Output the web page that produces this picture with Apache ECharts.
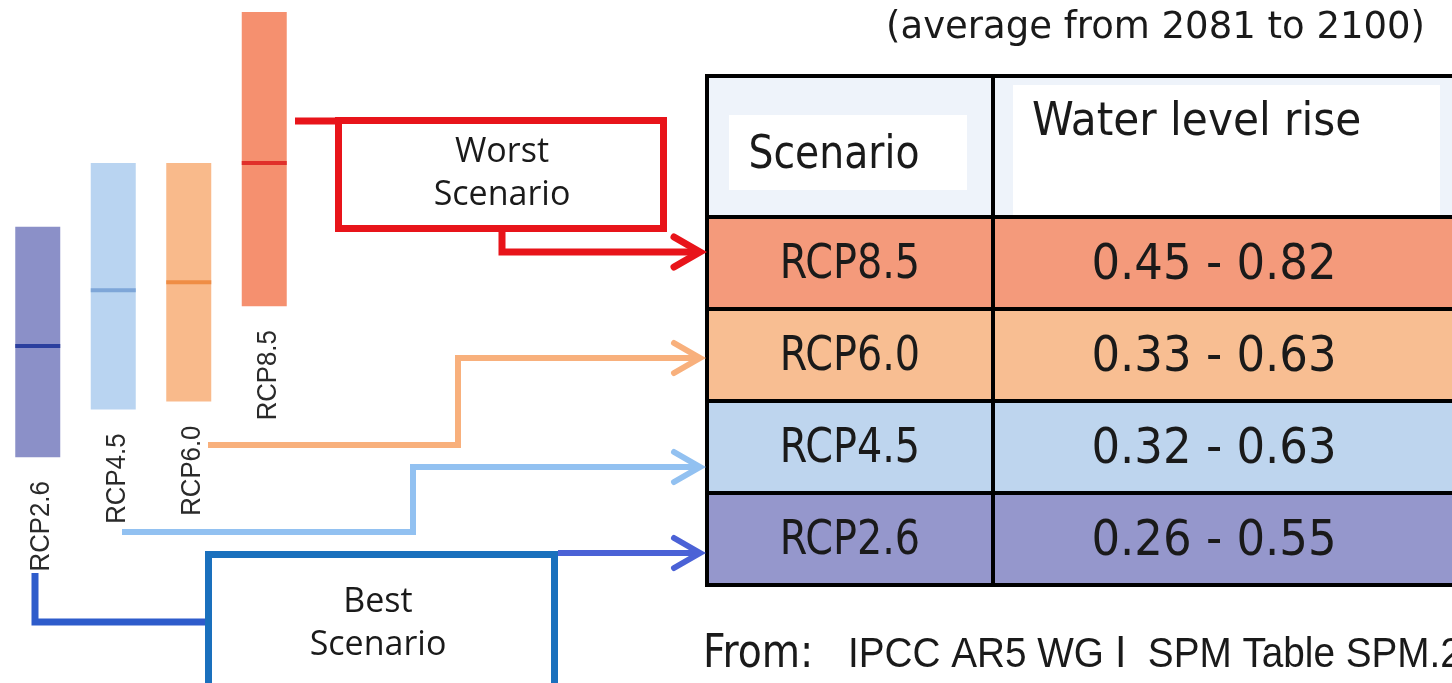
<!DOCTYPE html>
<html>
<head>
<meta charset="utf-8">
<script src="https://cdn.jsdelivr.net/npm/echarts/dist/echarts.min.js"></script>
<style>
  html, body { margin: 0; padding: 0; background: #fff; }
  #main { width: 1452px; height: 683px; }
</style>
</head>
<body>
<div id="main"></div>
<script>
// sea level rise ranges (m), average 2081-2100
var scenarios = ['RCP2.6', 'RCP4.5', 'RCP6.0', 'RCP8.5'];
var lowValues = [0.26, 0.32, 0.33, 0.45];
var highValues = [0.55, 0.63, 0.63, 0.82];
var medianValues = [0.40, 0.47, 0.48, 0.63];
var barColors = ['#8b90c8', '#b9d4f1', '#f9ba8b', '#f5906f'];
var medianColors = ['#2b3f9e', '#7ea6d8', '#ef8d45', '#e0302a'];

// table rows, top to bottom
var tableOrder = ['RCP8.5', 'RCP6.0', 'RCP4.5', 'RCP2.6'];
var rowColors = ['#f49a7b', '#f8be92', '#bed5ee', '#9597cc'];

var condensed = '"DejaVu Sans Condensed", "DejaVu Sans", sans-serif';

var barData = scenarios.map(function (s, i) {
    return [i, lowValues[i], highValues[i], medianValues[i]];
});

function renderBar(params, api) {
    var i = api.value(0);
    var top = api.coord([i, api.value(2)]);
    var bottom = api.coord([i, api.value(1)]);
    var med = api.coord([i, api.value(3)]);
    var w = 45;
    return {
        type: 'group',
        children: [
            {
                type: 'rect',
                shape: { x: top[0] - w / 2, y: top[1], width: w, height: bottom[1] - top[1] },
                style: { fill: barColors[i] }
            },
            {
                type: 'line',
                shape: { x1: med[0] - w / 2, y1: med[1], x2: med[0] + w / 2, y2: med[1] },
                style: { stroke: medianColors[i], lineWidth: 4 }
            },
            {
                type: 'text',
                x: bottom[0] + 4,
                y: bottom[1] + 24,
                rotation: Math.PI / 2,
                scaleX: 0.92,
                style: {
                    text: scenarios[i],
                    font: '28px "Liberation Sans", Arial, sans-serif',
                    fill: '#2a2a2a',
                    align: 'right',
                    verticalAlign: 'middle'
                }
            }
        ]
    };
}

function connector(points, color, width, head) {
    var items = [{
        type: 'polyline',
        shape: { points: points },
        style: { stroke: color, lineWidth: width, fill: null, lineJoin: 'miter' },
        z: 5
    }];
    if (head) {
        var tip = points[points.length - 1];
        items.push({
            type: 'polyline',
            shape: { points: [[tip[0] - 26, tip[1] - 15], [tip[0], tip[1]], [tip[0] - 26, tip[1] + 15]] },
            style: { stroke: color, lineWidth: width, fill: null, lineCap: 'round', lineJoin: 'miter' },
            z: 5
        });
    }
    return items;
}

function label(x, y, text, font, align, extra) {
    var el = {
        type: 'text', x: x, y: y,
        style: { text: text, font: font, fill: '#1a1a1a', align: align, verticalAlign: 'middle', textAlign: align, textVerticalAlign: 'middle' }
    };
    for (var k in extra) { el[k] = extra[k]; }
    return el;
}

var graphics = [];

// table
var tLeft = 707, tDiv = 993, tRight = 1470, tTop = 76, tHead = 217, rowH = 92;
graphics.push({ type: 'rect', shape: { x: tLeft, y: tTop, width: tRight - tLeft, height: tHead - tTop }, style: { fill: '#eef3fa' } });
graphics.push({ type: 'rect', shape: { x: 729, y: 115, width: 238, height: 75 }, style: { fill: '#fff' } });
graphics.push({ type: 'rect', shape: { x: 1013, y: 85, width: 427, height: 130 }, style: { fill: '#fff' } });
tableOrder.forEach(function (name, r) {
    var k = scenarios.indexOf(name);
    var y0 = tHead + r * rowH;
    graphics.push({ type: 'rect', shape: { x: tLeft, y: y0, width: tRight - tLeft, height: rowH }, style: { fill: rowColors[r] } });
    graphics.push(label(850, y0 + rowH / 2 + 3, name, '48px ' + condensed, 'center', { scaleX: 0.92 }));
    graphics.push(label(1214, y0 + rowH / 2 + 3, lowValues[k].toFixed(2) + ' - ' + highValues[k].toFixed(2), '50px ' + condensed, 'center', {}));
});
var tBottom = tHead + tableOrder.length * rowH;
// table borders
graphics.push({ type: 'rect', shape: { x: tLeft, y: tTop, width: tRight - tLeft, height: tBottom - tTop }, style: { fill: null, stroke: '#000', lineWidth: 4 }, z: 3 });
graphics.push({ type: 'line', shape: { x1: tDiv, y1: tTop, x2: tDiv, y2: tBottom }, style: { stroke: '#000', lineWidth: 4 }, z: 3 });
for (var r = 0; r < tableOrder.length; r++) {
    var yy = tHead + r * rowH;
    graphics.push({ type: 'line', shape: { x1: tLeft, y1: yy, x2: tRight, y2: yy }, style: { stroke: '#000', lineWidth: 4 }, z: 3 });
}
graphics.push(label(834, 156, 'Scenario', '46px ' + condensed, 'center', { scaleX: 0.95 }));
graphics.push(label(1032, 123, 'Water level rise', '47px ' + condensed, 'left', {}));
graphics.push(label(1425, 28, '(average from 2081 to 2100)', '37px "DejaVu Sans", sans-serif', 'right', {}));
graphics.push(label(703, 655, 'From:', '46px ' + condensed, 'left', { scaleX: 0.95 }));
graphics.push(label(848, 655, 'IPCC AR5 WG \u2160  SPM Table SPM.2', '43px "Liberation Sans", Arial, sans-serif', 'left', { scaleX: 0.9 }));

// worst scenario box and arrow
graphics = graphics.concat(connector([[295, 121], [340, 121]], '#e8141a', 7, false));
graphics.push({ type: 'rect', shape: { x: 338.5, y: 120.5, width: 325, height: 108 }, style: { fill: '#fff', stroke: '#e8141a', lineWidth: 7 }, z: 6 });
graphics.push(label(502, 174, 'Worst\nScenario', '34px "Open Sans", sans-serif', 'center', { z: 7 }));
graphics[graphics.length - 1].style.lineHeight = 43;
graphics = graphics.concat(connector([[502, 230], [502, 252], [700, 252]], '#e8141a', 7, true));

// middle connectors
graphics = graphics.concat(connector([[208, 445], [458, 445], [458, 358], [700, 358]], '#f8b07c', 6, true));
graphics = graphics.concat(connector([[122, 532], [413, 532], [413, 467], [700, 467]], '#92c1f1', 6, true));

// best scenario box and arrows
graphics = graphics.concat(connector([[35, 573], [35, 622], [208, 622]], '#2e5ccb', 7, false));
graphics.push({ type: 'rect', shape: { x: 208.5, y: 554.5, width: 346, height: 200 }, style: { fill: '#fff', stroke: '#1a70bd', lineWidth: 7 }, z: 6 });
graphics.push(label(378, 624, 'Best\nScenario', '34px "Open Sans", sans-serif', 'center', { z: 7 }));
graphics[graphics.length - 1].style.lineHeight = 43;
graphics = graphics.concat(connector([[558, 553], [700, 553]], '#4b62d6', 6, true));

var myChart = echarts.init(document.getElementById('main'));
var option = {
    backgroundColor: '#fff',
    animation: false,
    grid: {
        left: 0,
        top: 0,
        width: 302,
        height: 664
    },
    xAxis: {
        type: 'category',
        data: scenarios,
        show: false
    },
    yAxis: {
        type: 'value',
        min: 0,
        max: 0.835,
        show: false
    },
    series: [
        {
            type: 'custom',
            renderItem: renderBar,
            encode: { x: 0, y: [1, 2] },
            data: barData,
            z: 2
        }
    ],
    graphic: graphics
};
myChart.setOption(option);
</script>
</body>
</html>
